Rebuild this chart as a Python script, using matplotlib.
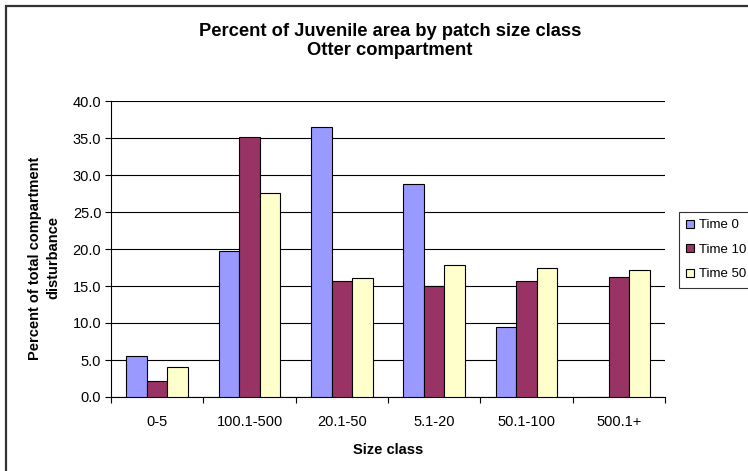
import numpy as np
import matplotlib.pyplot as plt
from matplotlib.patches import Rectangle

plt.rcParams['font.family'] = ['Liberation Sans', 'DejaVu Sans']

size_classes = ["0-5", "100.1-500", "20.1-50", "5.1-20", "50.1-100", "500.1+"]
time_0 = [5.6, 19.7, 36.5, 28.8, 9.4, 0.0]
time_10 = [2.2, 35.1, 15.7, 15.0, 15.7, 16.2]
time_50 = [4.0, 27.6, 16.1, 17.8, 17.5, 17.2]

series = [("Time 0", time_0, "#9999FF"),
          ("Time 10", time_10, "#993366"),
          ("Time 50", time_50, "#FFFFCC")]

W, H = 748, 471
fig = plt.figure(figsize=(W / 100, H / 100), dpi=100)
ax = fig.add_axes([111 / W, 1 - 397 / H, 554 / W, 296 / H])

x = np.arange(len(size_classes))
w = 1 / 4.5
for i, (name, vals, col) in enumerate(series):
    ax.bar(x + (i - 1) * w, vals, width=w, color=col, edgecolor="black",
           linewidth=0.8, label=name, zorder=3)

ax.set_xlim(-0.5, len(size_classes) - 0.5)
ax.set_ylim(0, 40)
yt = np.arange(0, 41, 5)
ax.set_yticks(yt)
ax.set_yticklabels([f"{v:.1f}" for v in yt], fontsize=10.5)
ax.set_xticks(x)
ax.set_xticklabels(size_classes, fontsize=10.5)
ax.set_xticks(np.arange(-0.5, len(size_classes)), minor=True)
ax.tick_params(axis="x", which="major", length=0, pad=13)
ax.tick_params(axis="x", which="minor", length=4, width=0.8, direction="out")
ax.tick_params(axis="y", length=4, width=0.8, direction="out", pad=3)
ax.yaxis.grid(True, color="black", linewidth=0.8, zorder=0)
ax.set_axisbelow(True)
for s in ("top", "right"):
    ax.spines[s].set_visible(False)
for s in ("left", "bottom"):
    ax.spines[s].set_linewidth(0.8)

ax.set_xlabel("Size class", fontsize=10.5, fontweight="bold")
ax.xaxis.set_label_coords(0.5, -(443 - 397) / 296)
ax.set_ylabel("Percent of total compartment\ndisturbance", fontsize=10.5,
              fontweight="bold", linespacing=1.35)
ax.yaxis.set_label_coords(-(111 - 60) / 554, 0.47)

fig.text(390 / W, 1 - 35.7 / H, "Percent of Juvenile area by patch size class",
         ha="center", va="baseline", fontsize=13.2, fontweight="bold")
fig.text(390 / W, 1 - 55 / H, "Otter compartment",
         ha="center", va="baseline", fontsize=13.2, fontweight="bold")

leg = fig.legend(loc="upper left", bbox_to_anchor=(679 / W, 1 - 212 / H),
                 fontsize=9.5, frameon=True, fancybox=False, borderpad=0.55,
                 handlelength=0.55, handleheight=0.55, handletextpad=0.45,
                 labelspacing=0.95, borderaxespad=0)
leg.get_frame().set_edgecolor("black")
leg.get_frame().set_linewidth(0.8)

# outer chart border, running off the right and bottom edges
fig.patches.append(Rectangle((5.5 / W, -0.1), 1.2, 1 - 5.5 / H + 0.1,
                             transform=fig.transFigure, fill=False,
                             edgecolor="#333333", linewidth=1.6))

fig.savefig("out.png", dpi=100)
